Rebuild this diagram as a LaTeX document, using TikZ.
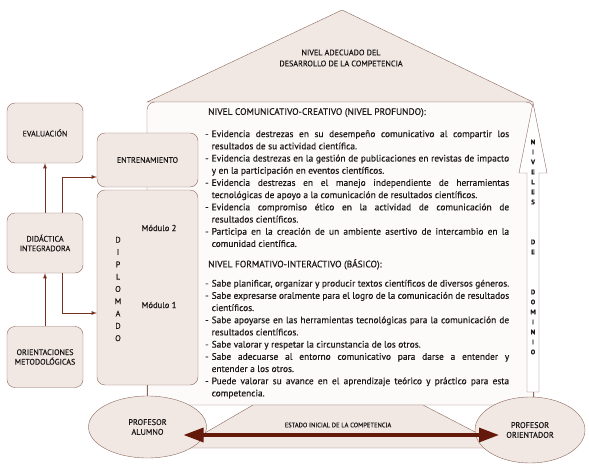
\documentclass[tikz,border=0pt]{standalone}
\usepackage{fontspec}
\setmainfont{PT Sans}[FakeBold=0.35]
\usetikzlibrary{calc,positioning,shapes.geometric,arrows,arrows.meta}

\definecolor{marco}{RGB}{140,105,95}
\definecolor{relleno}{RGB}{241,232,227}
\definecolor{fondo}{RGB}{253,251,250}
\definecolor{flecha}{RGB}{120,50,35}
\definecolor{oscuro}{RGB}{100,25,10}
\definecolor{texto}{RGB}{28,24,24}

\newcommand{\guion}{\par\noindent\hangindent=6.5pt\hangafter=1\makebox[6.5pt][l]{-}}

\begin{document}
\begin{tikzpicture}[x=1pt,y=-1pt,
  caja/.style={draw=marco,fill=relleno,rounded corners=8pt,align=center,inner sep=0pt,
    font=\fontsize{8}{9.6}\selectfont,text=texto},
  elipse/.style={draw=marco,fill=relleno,ellipse,align=center,inner sep=0pt,
    font=\fontsize{8.2}{9.8}\selectfont,text=texto},
  bloque/.style={anchor=north west,inner sep=0pt,text width=304pt,align=justify,
    font=\fontsize{9.4}{12.2}\selectfont,text=texto},
  conector/.style={draw=flecha,thick,-latex},
  linea/.style={draw=marco},
  doble/.style={draw=oscuro,line width=3.2pt,{Triangle[length=20pt,width=14pt]}-{Triangle[length=20pt,width=14pt]}}]

\useasboundingbox (0,0) rectangle (589,468);

% techo y marco principal
\filldraw [draw=marco,fill=relleno] (147,102) -- (342,10) -- (533,102) -- cycle;
\node [align=center,font=\fontsize{8.1}{11}\selectfont,text=texto] (adecuado) at (341,58)
  {NIVEL ADECUADO DEL\\DESARROLLO DE LA COMPETENCIA};

\filldraw [draw=marco,fill=fondo,rounded corners=8pt] (147,102) rectangle (534,405);

% base del dibujo
\filldraw [draw=marco,fill=relleno]
  (253,405) -- (423,405) -- (506,448) -- (179,448) -- cycle;
\node [font=\fontsize{6.5}{8}\selectfont,text=texto] (inicial) at (338,425)
  {ESTADO INICIAL DE LA COMPETENCIA};

% flecha de niveles
\filldraw [draw=marco,fill=white]
  (533,103) -- (547,173) -- (539,173) -- (539,392) -- (527,392) -- (527,173) -- (519,173) -- cycle;
\coordinate (pie) at (533,392);
\node [align=center,font=\bfseries\fontsize{6.6}{10}\selectfont,text=texto] (dominio) at (533,247)
  {N\\I\\V\\E\\L\\E\\S\\[30pt]D\\E\\[30pt]D\\O\\M\\I\\N\\I\\O};

% niveles de la competencia
\node [bloque] (profundo) at (205,108) {%
  \noindent\hspace*{3pt}NIVEL COMUNICATIVO-CREATIVO (NIVEL PROFUNDO):\par\vspace{10pt}
  \guion Evidencia destrezas en su desempeño comunicativo al compartir los\linebreak
    resultados de su actividad científica.
  \guion Evidencia destrezas en la gestión de publicaciones en revistas de impacto\linebreak
    y en la participación en eventos científicos.
  \guion Evidencia destrezas en el manejo independiente de herramientas\linebreak
    tecnológicas de apoyo a la comunicación de resultados científicos.
  \guion Evidencia compromiso ético en la actividad de comunicación de\linebreak
    resultados científicos.
  \guion Participa en la creación de un ambiente asertivo de intercambio en la\linebreak
    comunidad científica.\par};

\node [bloque] (basico) at (205,259) {%
  \noindent\hspace*{3pt}NIVEL FORMATIVO-INTERACTIVO (BÁSICO):\par\vspace{7pt}
  \guion Sabe planificar, organizar y producir textos científicos de diversos géneros.
  \guion Sabe expresarse oralmente para el logro de la comunicación de resultados\linebreak
    científicos.
  \guion Sabe apoyarse en las herramientas tecnológicas para la comunicación de\linebreak
    resultados científicos.
  \guion Sabe valorar y respetar la circunstancia de los otros.
  \guion Sabe adecuarse al entorno comunicativo para darse a entender y\linebreak
    entender a los otros.
  \guion Puede valorar su avance en el aprendizaje teórico y práctico para esta\linebreak
    competencia.\par};

% cajas de la izquierda
\node [caja,minimum width=76pt,minimum height=60pt] (evaluacion) at (45,133) {EVALUACIÓN};
\node [caja,minimum width=76pt,minimum height=60pt] (didactica) at (45,243) {DIDÁCTICA\\INTEGRADORA};
\node [caja,minimum width=76pt,minimum height=61pt] (orientaciones) at (45,357) {ORIENTACIONES\\METODOLÓGICAS};

\node [caja,minimum width=101pt,minimum height=54pt] (entrenamiento) at (147.5,160) {ENTRENAMIENTO};
\node [caja,minimum width=101pt,minimum height=195pt] (diplomado) at (147.5,287.5) {};
\node [align=center,font=\fontsize{8.2}{12.3}\selectfont,text=texto] (siglas) at (118,289)
  {D\\I\\P\\L\\O\\M\\A\\D\\O};
\node [font=\fontsize{8.6}{10}\selectfont,text=texto] (modulo2) at (159,228) {Módulo 2};
\node [font=\fontsize{8.6}{10}\selectfont,text=texto] (modulo1) at (159,305) {Módulo 1};

% profesores
\node [elipse,minimum width=118pt,minimum height=62pt] (alumno) at (147.5,427) {PROFESOR\\ALUMNO};
\node [elipse,minimum width=110pt,minimum height=66pt] (orientador) at (530,430) {PROFESOR\\ORIENTADOR};

% conectores
\draw [conector] (didactica) -- (evaluacion);
\draw [conector] (orientaciones) -- (didactica);
\draw [conector] ([xshift=17pt]didactica.north) |- ([yshift=-17pt]entrenamiento.west);
\draw [conector] ([xshift=17pt]didactica.south) |- ([yshift=-25.5pt]diplomado.west);
\draw [linea] (diplomado.south) -- (alumno.north);
\draw [linea] (pie) -- (pie |- orientador.north);
\draw [doble] ([xshift=36pt,yshift=-8pt]alumno.center) -- ([xshift=-31pt,yshift=-5pt]orientador.center);

\end{tikzpicture}
\end{document}
